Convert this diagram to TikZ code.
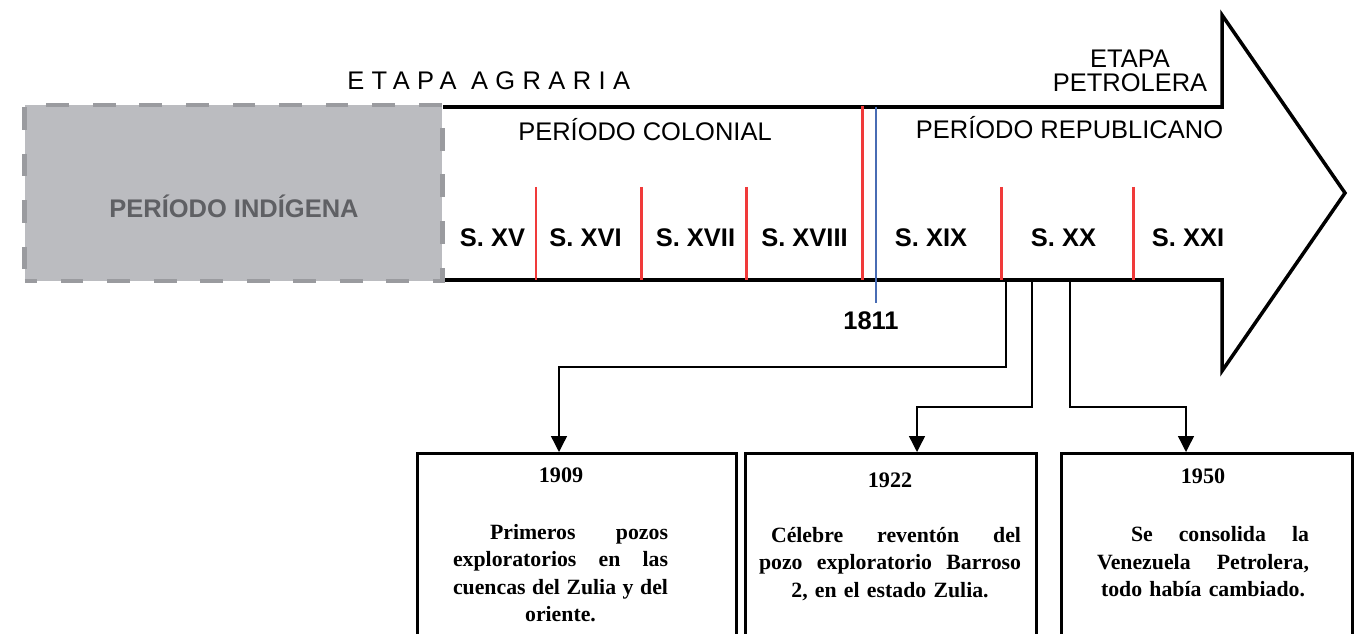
\documentclass[tikz,border=0pt]{standalone}
\usepackage{fontspec}
\setmainfont{Liberation Serif}
\setsansfont{Liberation Sans}
\usepackage{tikz}
\usetikzlibrary{arrows.meta, positioning, calc}
\definecolor{SepRed}{RGB}{240,58,58}
\definecolor{MarkBlue}{RGB}{72,108,180}
\definecolor{BoxGray}{RGB}{187,188,192}
\definecolor{DashGray}{RGB}{154,155,159}
\definecolor{TextGray}{RGB}{95,96,100}

% justified line and centred last line inside a box
\newcommand{\fillline}[2][0pt]{\leavevmode\hbox to\linewidth{\hspace*{#1}#2}}
\newcommand{\lastline}[1]{\leavevmode\hbox to\linewidth{\hfil#1\hfil}}

\begin{document}
\begin{tikzpicture}[
  x=0.02cm, y=-0.02cm,
  font=\sffamily\fontsize{14.5}{17}\selectfont,
  lbl/.style={inner sep=0pt},
  cent/.style={lbl, font=\sffamily\bfseries\fontsize{14.5}{17}\selectfont},
  outline/.style={line width=2pt, line join=miter},
  sepline/.style={SepRed, line width=1.7pt},
  indigbox/.style={rectangle, fill=BoxGray, draw=DashGray, line width=2.8pt,
                   dash pattern=on 13pt off 13.5pt, dash phase=6pt,
                   minimum width=8.36cm, minimum height=3.52cm},
  evbox/.style={rectangle, draw, line width=1.6pt, fill=white,
                minimum height=4.8cm, anchor=north west},
  yr/.style={lbl, font=\rmfamily\bfseries\fontsize{12.6}{15.6}\selectfont},
  evtext/.style={lbl, font=\rmfamily\bfseries\fontsize{12.4}{15.6}\selectfont},
  link/.style={-{Triangle[length=9pt, width=9pt]}, line width=0.8pt},
]
\useasboundingbox (0,0) rectangle (1366,634);
\clip (0,0) rectangle (1366,634);

% Timeline arrow
\draw[outline] (443,107) -- (1222,107) -- (1222,15) -- (1345,193)
  -- (1222,371) -- (1222,280) -- (443,280);

% Indigenous period
\node[indigbox] (indig) at (233.5,193) {};
\node[cent, text=TextGray] (indiglbl) at (234,206) {PERÍODO INDÍGENA};

% Stages and periods
\node[lbl, anchor=west] (agraria) at (347,81)
  {\addfontfeatures{LetterSpace=29}ETAPA AGRARIA};
\node[lbl, align=center, font=\sffamily\fontsize{14.5}{13.7}\selectfont]
  (petrolera) at (1130,71) {ETAPA\\PETROLERA};
\node[lbl] (colonial) at (645,130) {PERÍODO COLONIAL};
\node[lbl] (republicano) at (1069.5,128) {PERÍODO REPUBLICANO};

% Century separators
\draw[sepline] (862,106) -- (862,280);
\foreach \x in {536,641,746,1001,1133}
  \draw[sepline] (\x,187) -- (\x,280);
\draw[MarkBlue, line width=0.8pt] (876,107) -- (876,303);
\node[cent] (y1811) at (871,321) {1811};

% Centuries
\node[cent] (s15) at (492.5,238) {S. XV};
\node[cent] (s16) at (585.5,238) {S. XVI};
\node[cent] (s17) at (695.5,238) {S. XVII};
\node[cent] (s18) at (804.5,238) {S. XVIII};
\node[cent] (s19) at (931,238) {S. XIX};
\node[cent] (s20) at (1063.5,238) {S. XX};
\node[cent] (s21) at (1188,238) {S. XXI};

% Event boxes
\node[evbox, minimum width=6.38cm] (box1) at (416,452) {};
\node[evbox, minimum width=5.82cm] (box2) at (744,452) {};
\node[evbox, minimum width=5.82cm] (box3) at (1060,452) {};

\node[yr] (yr1) at (561,475) {1909};
\node[yr] (yr2) at (890,480) {1922};
\node[yr] (yr3) at (1203,476) {1950};

\node[evtext, text width=4.30cm] (txt1) at (560.5,573) {%
  \fillline[0.74cm]{Primeros\hfill pozos}\\
  \fillline{exploratorios\hfill en\hfill las}\\
  \fillline{cuencas\hfill del\hfill Zulia\hfill y\hfill del}\\
  \lastline{oriente.}};
\node[evtext, text width=5.24cm] (txt2) at (890,564) {%
  \fillline[0.24cm]{Célebre\hfill reventón\hfill del}\\
  \fillline{pozo\hfill exploratorio\hfill Barroso}\\
  \lastline{2, en el estado Zulia.}};
\node[evtext, text width=4.24cm] (txt3) at (1203,562) {%
  \fillline[0.68cm]{Se\hfill consolida\hfill la}\\
  \fillline{Venezuela\hfill Petrolera,}\\
  \lastline{todo había cambiado.}};

% Links from the XX century
\coordinate (d1) at (1006,280);
\coordinate (d2) at (1032,280);
\coordinate (d3) at (1070,280);
\draw[link] (d1) -- ++(0,87) -| ($(box1.north west)+(143,0)$);
\draw[link] (d2) -- ++(0,127) -| ($(box2.north west)+(173,0)$);
\draw[link] (d3) -- ++(0,127) -| ($(box3.north west)+(126,0)$);

\end{tikzpicture}
\end{document}
